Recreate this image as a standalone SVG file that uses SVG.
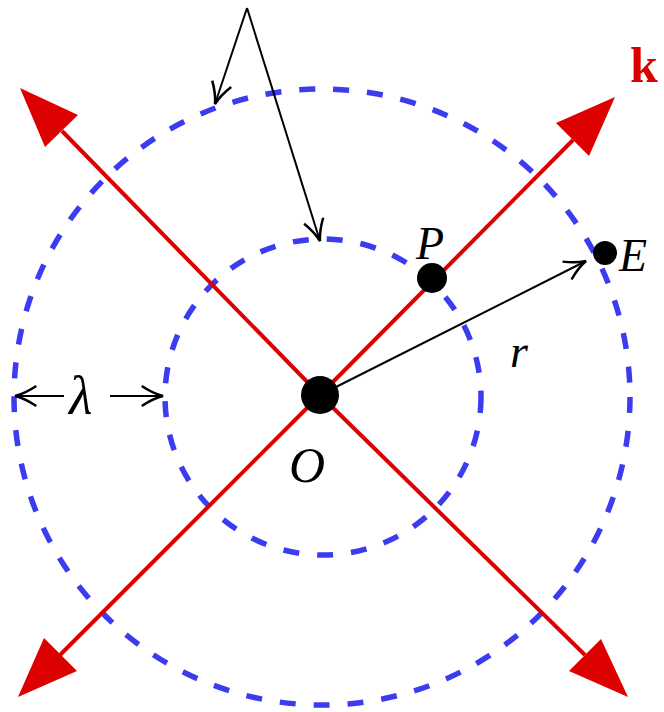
<svg xmlns="http://www.w3.org/2000/svg" width="664" height="712" viewBox="0 0 664 712">
<style>
.wave{fill:none;stroke:#3b3bf0;stroke-width:5.5;stroke-dasharray:16 18}
.ray{stroke:#dd0000;stroke-width:4;fill:none}
.head{fill:#dd0000}
.blk{stroke:#000;stroke-width:2;fill:none}
.lbl{font-family:"Liberation Serif",serif;font-style:italic;fill:#000}
.dot{fill:#000}
</style>
<defs>
<marker id="ah" markerUnits="userSpaceOnUse" markerWidth="30" markerHeight="30" viewBox="-20 -10 24 20" refX="0" refY="0" orient="auto">
<path d="M -17 -8 Q -8 -2 0 0 Q -8 2 -17 8" fill="none" stroke="#000" stroke-width="2"/>
</marker>
</defs>
<g id="wavefronts">
<circle id="outer" class="wave" cx="322" cy="397" r="308"/>
<circle id="inner" class="wave" cx="323" cy="397" r="158"/>
</g>
<g id="rays">
<line class="ray" x1="320" y1="395" x2="573" y2="140"/>
<polygon class="head" points="615,97 589,156 556,123"/>
<line class="ray" x1="320" y1="395" x2="62" y2="131"/>
<polygon class="head" points="20,88 78,115 45,147"/>
<line class="ray" x1="320" y1="395" x2="60" y2="655"/>
<polygon class="head" points="18,697 77,671 44,638"/>
<line class="ray" x1="320" y1="395" x2="585" y2="655"/>
<polygon class="head" points="628,697 569,671 601,639"/>
</g>
<g id="connectors">
<line class="blk" x1="247" y1="8" x2="215" y2="104" marker-end="url(#ah)"/>
<line class="blk" x1="247" y1="8" x2="320" y2="241" marker-end="url(#ah)"/>
<line class="blk" x1="330" y1="390" x2="586" y2="261" marker-end="url(#ah)"/>
<line class="blk" x1="64" y1="396" x2="15" y2="396" marker-end="url(#ah)"/>
<line class="blk" x1="110" y1="396" x2="163" y2="396" marker-end="url(#ah)"/>
</g>
<g id="O"><circle class="dot" cx="320" cy="395" r="19"/><text class="lbl" x="289" y="482" font-size="50">O</text></g>
<g id="P"><circle class="dot" cx="432" cy="278" r="15"/><text class="lbl" x="416" y="259" font-size="46">P</text></g>
<g id="E"><circle class="dot" cx="605" cy="253" r="12"/><text class="lbl" x="619" y="271" font-size="46">E</text></g>
<text class="lbl" x="510" y="367" font-size="46">r</text>
<text class="lbl" x="69" y="414" font-size="54">λ</text>
<text x="630" y="82" font-family="Liberation Serif,serif" font-weight="bold" font-size="50" fill="#dd0000">k</text>
</svg>
